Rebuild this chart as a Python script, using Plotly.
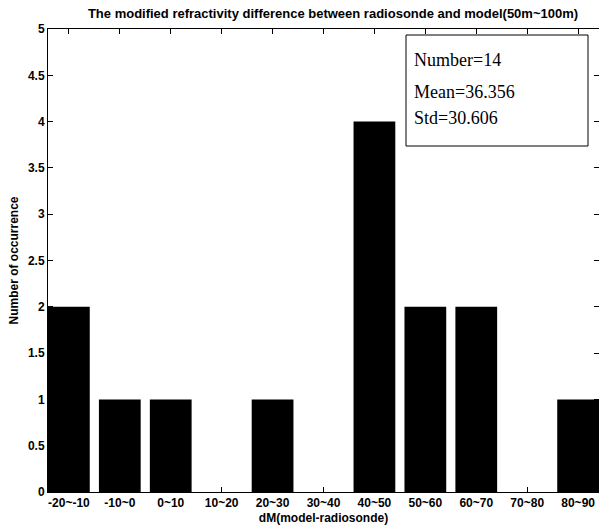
import plotly.graph_objects as go

categories = ["-20~-10", "-10~0", "0~10", "10~20", "20~30", "30~40",
              "40~50", "50~60", "60~70", "70~80", "80~90"]
counts = [2, 1, 1, 0, 1, 0, 4, 2, 2, 0, 1]
y_ticks = [0, 0.5, 1, 1.5, 2, 2.5, 3, 3.5, 4, 4.5, 5]
y_labels = ["0", "0.5", "1", "1.5", "2", "2.5", "3", "3.5", "4", "4.5", "5"]
stats_lines = ["Number=14", "Mean=36.356", "Std=30.606"]

W, H = 599, 529
L, R, T, B = 48, 0, 29, 37

fig = go.Figure()
fig.add_trace(go.Bar(
    x=list(range(len(categories))), y=counts,
    marker=dict(color="black", line=dict(width=0)),
    width=0.82,
    hoverinfo="skip",
))

axis_font = dict(family="Arial, Liberation Sans, sans-serif", size=12,
                 color="black", weight="bold")

fig.update_layout(
    width=W, height=H,
    margin=dict(l=L, r=R, t=T, b=B, pad=0),
    paper_bgcolor="white", plot_bgcolor="white",
    showlegend=False,
    title=dict(
        text="The modified refractivity difference between radiosonde and model(50m~100m)",
        font=dict(family="Arial, Liberation Sans, sans-serif", size=13,
                  color="black", weight="bold"),
        x=333 / W, xanchor="center", xref="container",
        y=1 - 13 / H, yanchor="middle", yref="container",
    ),
    xaxis=dict(
        range=[-0.41, 10.41],
        tickmode="array",
        tickvals=list(range(len(categories))),
        ticktext=categories,
        ticks="inside", ticklen=5, tickcolor="black",
        showline=True, linecolor="black", linewidth=1, mirror="ticks",
        showgrid=False, zeroline=False,
        tickfont=axis_font,
        title=dict(text="dM(model-radiosonde)", font=axis_font, standoff=4),
    ),
    yaxis=dict(
        range=[0, 5],
        tickmode="array", tickvals=y_ticks, ticktext=y_labels,
        ticks="inside", ticklen=5, tickcolor="black",
        showline=True, linecolor="black", linewidth=1, mirror="ticks",
        showgrid=False, zeroline=False,
        tickfont=axis_font,
        title=dict(text="Number of occurrence", font=axis_font, standoff=6),
    ),
)

pw = W - L - R
ph = H - T - B
def px(xp):
    return (xp - L) / pw
def py(yp):
    return (H - B - yp) / ph

fig.add_shape(type="rect", xref="paper", yref="paper",
              x0=px(406), x1=px(588), y0=py(146), y1=py(35),
              line=dict(color="black", width=1), fillcolor="white")

for line, yc in zip(stats_lines, [60, 92, 118]):
    fig.add_annotation(
        text=line, xref="paper", yref="paper",
        x=px(412), y=py(yc), xanchor="left", yanchor="middle",
        showarrow=False,
        font=dict(family="Liberation Serif, Times New Roman, serif", size=18, color="black"),
    )

fig.write_html(
    "out.html",
    config={"displayModeBar": False},
    post_script="document.body.style.margin='0';document.body.style.overflow='hidden';",
)
